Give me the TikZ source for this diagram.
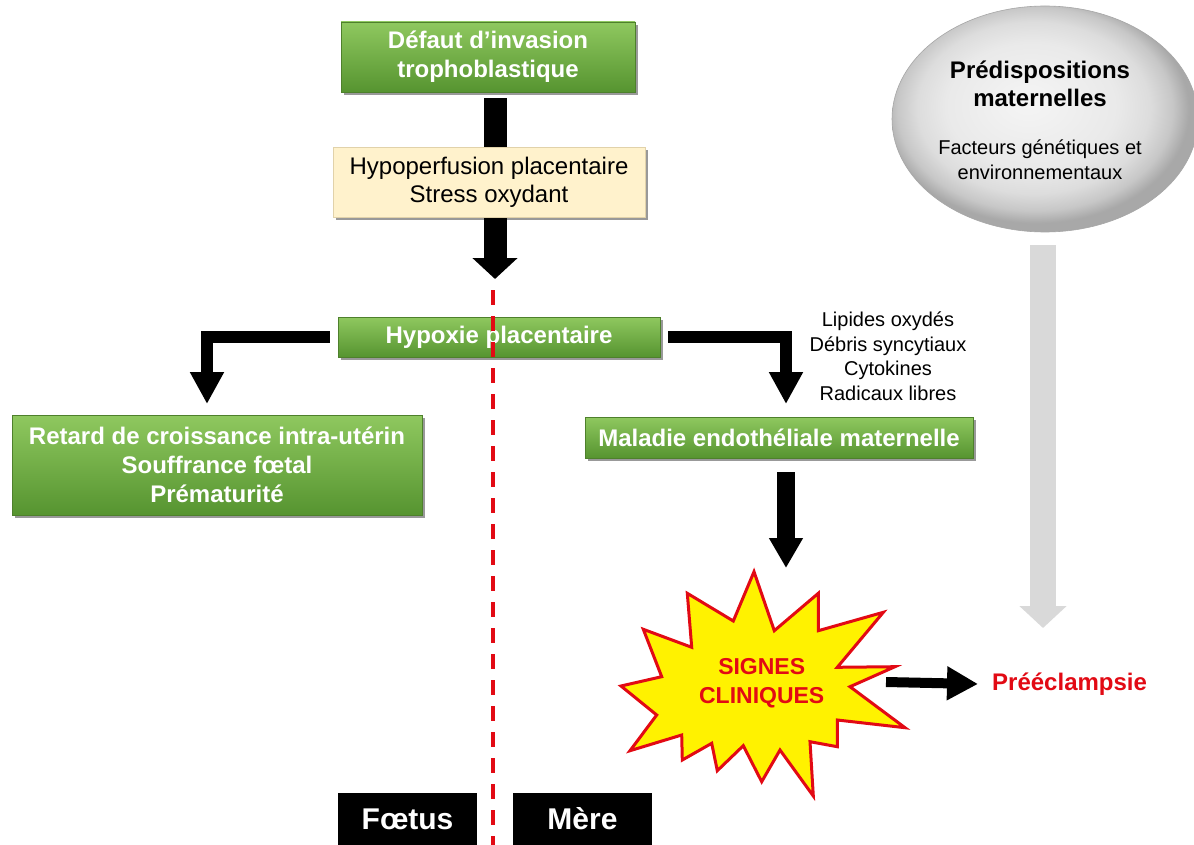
\documentclass[tikz,border=0pt]{standalone}
\usepackage{fontspec}
\setmainfont{Liberation Sans}
\usetikzlibrary{arrows.meta,shadows,shapes.geometric}
\pgfdeclarelayer{bg}
\pgfsetlayers{bg,main}
\definecolor{gtop}{RGB}{143,200,95}
\definecolor{gbot}{RGB}{86,148,48}
\definecolor{gdraw}{RGB}{78,128,44}
\definecolor{beige}{RGB}{255,242,204}
\definecolor{beigedraw}{RGB}{225,210,170}
\definecolor{rred}{RGB}{226,10,20}
\definecolor{lgray}{RGB}{217,217,217}
\pgfdeclareradialshading{ellsh}{\pgfpoint{-3bp}{4bp}}{color(0bp)=(gray!8); color(14bp)=(gray!17); color(19bp)=(gray!27); color(22.5bp)=(gray!44); color(25bp)=(gray!68); color(50bp)=(gray!68)}
\begin{document}
\begin{tikzpicture}[x=1pt,y=-1pt,
  gbox/.style={rectangle, top color=gtop, bottom color=gbot, draw=gdraw, line width=0.8pt,
    text=white, font=\fontsize{24}{29}\selectfont\bfseries, align=center, inner sep=0pt,
    drop shadow={shadow xshift=3pt,shadow yshift=-3pt,opacity=0.4,fill=black}},
  bbox/.style={rectangle, fill=beige, draw=beigedraw, line width=0.6pt, text=black,
    font=\fontsize{24}{28}\selectfont, align=center, inner sep=0pt,
    drop shadow={shadow xshift=3pt,shadow yshift=-3pt,opacity=0.4,fill=black}},
  kbox/.style={rectangle, fill=black, text=white, font=\fontsize{30}{34}\selectfont\bfseries,
    inner sep=0pt, minimum width=139pt, minimum height=52pt},
  blk/.style={draw=black, line cap=butt, line join=miter},
  plain/.style={align=center, inner sep=0pt}
]
\useasboundingbox (0,0) rectangle (1194,845);
\begin{pgfonlayer}{bg}
\fill[white] (0,0) rectangle (1194,845);
\end{pgfonlayer}

% nodes
\node[gbox, minimum width=294pt, minimum height=70pt] (b1) at (488,57) {Défaut d’invasion\\trophoblastique};
\node[bbox, minimum width=312pt, minimum height=70pt] (beige) at (489,182) {Hypoperfusion placentaire\\Stress oxydant};
\node[gbox, minimum width=322pt, minimum height=40pt] (hyp) at (499,337) {Hypoxie placentaire};
\node[gbox, minimum width=410pt, minimum height=100pt] (retard) at (217,465) {Retard de croissance intra-utérin\\Souffrance fœtal\\Prématurité};
\node[gbox, minimum width=388pt, minimum height=41pt] (mal) at (779,437.5) {Maladie endothéliale maternelle};
\node[plain, font=\fontsize{20}{24.5}\selectfont] (lip) at (888,356) {Lipides oxydés\\Débris syncytiaux\\Cytokines\\Radicaux libres};

\node[ellipse, minimum width=306pt, minimum height=226pt, shading=ellsh, draw=gray!70, line width=0.6pt] (pred) at (1045,119) {};
\node[plain, font=\fontsize{24}{28}\selectfont\bfseries] (predT) at (1040,84) {Prédispositions\\maternelles};
\node[plain, font=\fontsize{20}{25}\selectfont] (predF) at (1040,159.5) {Facteurs génétiques et\\environnementaux};

% star
\draw[draw=rred, fill=yellow, line width=3pt, line join=miter]
 (754,571.7) -- (774.3,630.7) -- (818.3,593.3) -- (818.3,630.7) -- (883.3,612.3) -- (837.3,667.3)
 -- (895,666.7) -- (850,686.7) -- (905,727.7) -- (837.3,720) -- (837.3,746.7) -- (810,741.7)
 -- (813.3,796) -- (780,750) -- (761.7,781.7) -- (743.3,745.7) -- (717.3,770.7) -- (711.7,743.3)
 -- (682.3,760) -- (681.7,735) -- (630,750.7) -- (656.7,715) -- (621,686) -- (661.7,676.7)
 -- (643.3,629.3) -- (691.7,647.3) -- (687.3,593.3) -- (733.3,621) -- cycle;
\node[plain, text=rred, font=\fontsize{23}{29}\selectfont\bfseries] (signes) at (761.7,683) {SIGNES\\CLINIQUES};
\node[plain, text=rred, font=\fontsize{24}{28}\selectfont\bfseries, anchor=west] (preec) at (992,684) {Prééclampsie};

\node[kbox] (foetus) at (407.5,819) {Fœtus};
\node[kbox] (mere) at (582.5,819) {Mère};

% coordinates
\coordinate (tip1) at (495,279);
\coordinate (tipL) at (207,404);
\coordinate (tipR) at (786,404);
\coordinate (tipM) at (786,568);
\coordinate (starR) at (886,682);
\coordinate (gtip) at (1043,628);
\coordinate (dtop) at (493,290);
\coordinate (dbot) at (493,845);

% connectors
\begin{pgfonlayer}{bg}
\draw[blk, line width=23pt] ([xshift=7pt,yshift=-6pt]b1.south) -- ([xshift=6pt]beige.north);
\draw[blk, line width=23pt, -{Triangle[width=44pt,length=21pt]}] ([xshift=6pt]beige.south) -- (tip1);
\draw[blk, line width=12pt, -{Triangle[width=32pt,length=32pt]}] ([xshift=-8pt]hyp.west) -| (tipL);
\draw[blk, line width=12pt, -{Triangle[width=32pt,length=32pt]}] ([xshift=8pt]hyp.east) -| (tipR);
\draw[blk, line width=18pt, -{Triangle[width=32pt,length=30pt]}] ([xshift=7pt,yshift=-14pt]mal.south) -- (tipM);
\draw[draw=lgray, line width=26pt, -{Triangle[width=46pt,length=22pt]}] ([xshift=-2pt,yshift=-13pt]pred.south) -- (gtip);
\end{pgfonlayer}
\draw[blk, line width=10pt, -{Triangle[width=32pt,length=31pt]}] (starR) -- ([xshift=-14pt]preec.west);
\draw[draw=rred, line width=3.5pt, dash pattern=on 15pt off 11pt] (dtop) -- (dbot);
\end{tikzpicture}
\end{document}
